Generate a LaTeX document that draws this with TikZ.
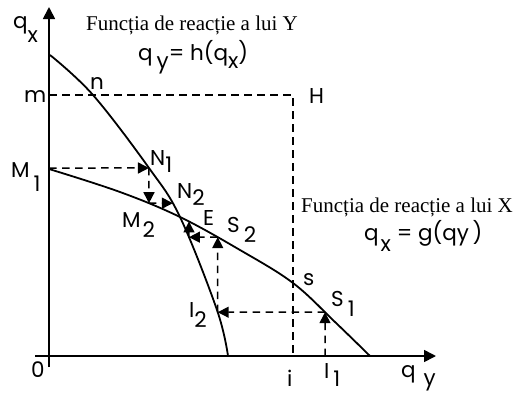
\documentclass[tikz,border=0pt]{standalone}
\usepackage{fontspec}
\setmainfont{Liberation Serif}
\newfontfamily\gothic{Poppins}
\usetikzlibrary{arrows.meta,intersections}
\newcommand\dn[2]{\raisebox{-#1}{#2}}
\begin{document}
\begin{tikzpicture}[x=1pt,y=-1pt,
  axisline/.style={line width=1.7pt,-{Triangle[length=12pt,width=12pt]}},
  curveline/.style={line width=1.8pt},
  dashline/.style={line width=1.5pt,dash pattern=on 7.5pt off 5.5pt},
  cob/.style={dashline,-{Triangle[length=11pt,width=11pt]}},
  lab/.style={anchor=base west,inner sep=0pt,font=\gothic\fontsize{21.5}{24}\selectfont},
  ttl/.style={anchor=base,inner sep=0pt,font=\fontsize{21}{25}\selectfont}]
\useasboundingbox (0,0) rectangle (517,394);
% axes
\coordinate (ybot) at (49,367);
\coordinate (ytop) at (49,7);
\coordinate (xl) at (35,356);
\coordinate (xr) at (436,356);
\draw[axisline] (ybot) -- (ytop);
\draw[axisline] (xl) -- (xr);
% curves
\draw[curveline,name path=hcurve] plot[smooth,tension=0.6] coordinates {(50,55) (93,95) (149,168) (180,217) (217,310) (228,356)};
\draw[curveline,name path=gcurve] plot[smooth,tension=0.6] coordinates {(49,169) (120,192) (180,217) (240,250) (293,283) (335,322) (370,356)};
% m - H - i dashed
\coordinate (mpt) at (49,95);
\coordinate (Hpt) at (293,95);
\coordinate (ipt) at (293,356);
\draw[dashline] (mpt) -- (Hpt) -- (ipt);
% upper cobweb
\coordinate (M1) at (49,168);
\path[name path=r1] (M1) -- (300,168);
\path[name intersections={of=hcurve and r1,by=N1}];
\draw[cob] (M1) -- (N1);
\path[name path=r2] (N1) -- ++(0,100);
\path[name intersections={of=gcurve and r2,by=M2}];
\draw[cob] (N1) -- (M2);
\path[name path=r3] (M2) -- ++(100,0);
\path[name intersections={of=hcurve and r3,by=N2}];
\draw[cob] (M2) -- (N2);
% lower cobweb
\coordinate (I1) at (325,356);
\path[name path=r4] (I1) -- ++(0,-150);
\path[name intersections={of=gcurve and r4,by=S1}];
\draw[cob] (I1) -- (S1);
\path[name path=r5] (S1) -- ++(-200,0);
\path[name intersections={of=hcurve and r5,by=I2}];
\draw[cob] (S1) -- (I2);
\path[name path=r6] (I2) -- ++(0,-150);
\path[name intersections={of=gcurve and r6,by=S2}];
\draw[cob] (I2) -- (S2);
\path[name path=r7] (S2) -- ++(-100,0);
\path[name intersections={of=hcurve and r7,by=T1}];
\draw[cob] (S2) -- (T1);
\path[name path=r8] (T1) -- ++(0,-100);
\path[name intersections={of=gcurve and r8,by=U1}];
\draw[cob] (T1) -- (U1);
% labels
\node[lab] (lqx) at (13,28) {q\dn{14pt}{x}};
\node[lab] (lm) at (24,102) {m};
\node[lab] (ln) at (90,89) {n};
\node[lab] (lH) at (309,103) {H};
\node[lab] (lM1) at (11,177) {M\hspace{4pt}\dn{14pt}{1}};
\node[lab] (lN1) at (150,165) {N\dn{7pt}{1}};
\node[lab] (lN2) at (177,198) {N\dn{7pt}{2}};
\node[lab] (lM2) at (122,227) {M\hspace{2pt}\dn{10pt}{2}};
\node[lab] (lE) at (203,225) {E};
\node[lab] (lS2) at (227,232) {S\hspace{4pt}\dn{10pt}{2}};
\node[lab] (ls) at (303,285) {s};
\node[lab] (lS1) at (331,306) {S\hspace{4pt}\dn{10pt}{1}};
\node[lab] (lI2) at (189,317) {I\dn{10pt}{2}};
\node[lab] (l0) at (31,377) {0};
\node[lab] (li) at (287,386) {i};
\node[lab] (lI1) at (324,378) {I\hspace{4pt}\dn{8pt}{1}};
\node[lab] (lqy) at (401,377) {q\hspace{8pt}\dn{8pt}{y}};
\node[ttl] (tY) at (192,30) {Funcția de reacție a lui Y};
\node[lab] (fY) at (138,60) {q\hspace{4pt}\dn{8pt}{y}= h(q\dn{8pt}{x})};
\node[ttl] (tX) at (407,212) {Funcția de reacție a lui X};
\node[lab] (fX) at (364,240) {q\hspace{2pt}\dn{11pt}{x} = g(qy\,)};
\end{tikzpicture}
\end{document}
